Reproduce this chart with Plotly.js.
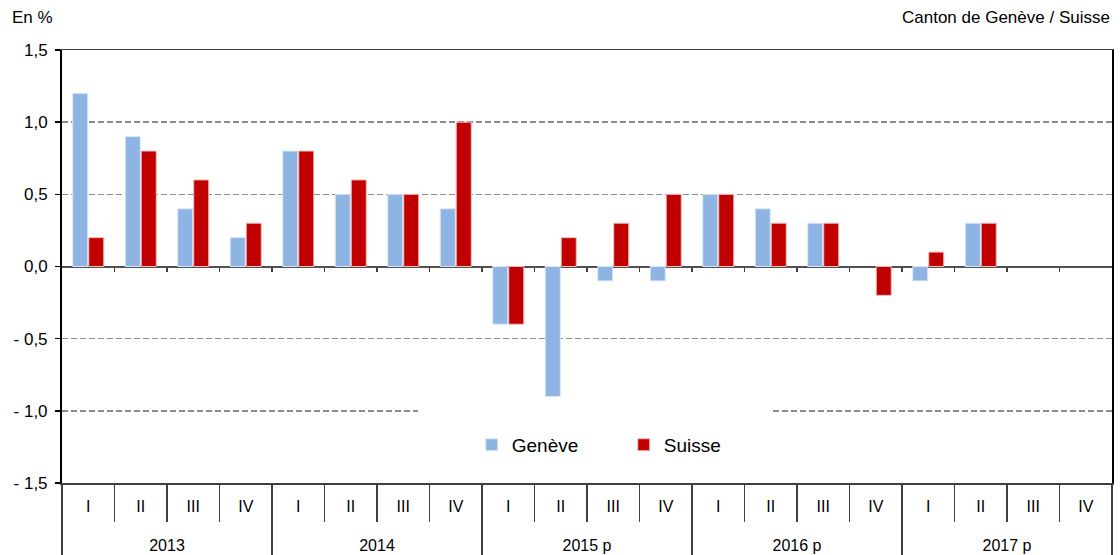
<!DOCTYPE html>
<html><head><meta charset="utf-8">
<script src="https://cdn.plot.ly/plotly-3.0.1.min.js"></script>
<style>body{margin:0;padding:0;background:#fff}#chart{width:1120px;height:555px}</style>
</head><body><div id="chart"></div>
<script>
const years = ['2013','2014','2015 p','2016 p','2017 p'];
const quarters = ['I','II','III','IV'];
const geneve = [1.2, 0.9, 0.4, 0.2,  0.8, 0.5, 0.5, 0.4,  -0.4, -0.9, -0.1, -0.1,  0.5, 0.4, 0.3, null,  -0.1, 0.3, null, null];
const suisse = [0.2, 0.8, 0.6, 0.3,  0.8, 0.6, 0.5, 1.0,  -0.4, 0.2, 0.3, 0.5,  0.5, 0.3, 0.3, -0.2,  0.1, 0.3, null, null];
const yTickVals = [1.5, 1.0, 0.5, 0, -0.5, -1.0, -1.5];
const yTickText = ['1,5','1,0','0,5','0,0','- 0,5','- 1,0','- 1,5'];

// category positions derived from the year/quarter arrays
const qLabels = [], idx = [];
years.forEach(y => quarters.forEach(q => { idx.push(qLabels.length); qLabels.push(q); }));
const nCat = qLabels.length, nQ = quarters.length;
const qBounds = [];
for (let i = 0; i < nCat - 1; i++) qBounds.push(i + 0.5);
const yearCenters = years.map((y, i) => i * nQ + (nQ - 1) / 2);
const yearBounds = [];
for (let i = 0; i <= years.length; i++) yearBounds.push(i * nQ - 0.5);
const R = [-0.5, nCat - 0.5];

const FONT = 'Liberation Sans Narrow, Arial Narrow, Liberation Sans, Arial, sans-serif';
const AX = '#404040';

const ghost = ax => ({type:'scatter', x:[0], y:[0], xaxis:ax, mode:'markers',
                      marker:{opacity:0}, showlegend:false, hoverinfo:'skip'});
const traces = [
  {type:'bar', name:'Genève', x:idx, y:geneve,
   marker:{color:'#8DB4E2', line:{color:'#DCE8F6', width:1}}},
  {type:'bar', name:'Suisse', x:idx, y:suisse,
   marker:{color:'#C00000', line:{color:'#EFC0C0', width:1}}},
  ghost('x2'), ghost('x3'), ghost('x4'), ghost('x5')
];

const tickOnly = (vals, len, extra) => Object.assign({
  overlaying:'x', anchor:'y', range:R, showgrid:false, zeroline:false, showline:false,
  showticklabels:false, tickmode:'array', tickvals:vals, ticks:'outside', ticklen:len,
  tickcolor:AX, tickwidth:1.5}, extra || {});

const layout = {
  width:1120, height:555,
  margin:{l:62, r:8, t:50, b:72},
  paper_bgcolor:'#fff', plot_bgcolor:'#fff',
  font:{family:FONT, size:16, color:'#000'},
  barmode:'group', bargap:0.39, bargroupgap:0.06,
  showlegend:true,
  legend:{orientation:'h', x:0.535, xanchor:'center', y:0.088, yanchor:'middle',
          bgcolor:'rgba(0,0,0,0)', font:{family:FONT, size:19}, entrywidth:107, traceorder:'normal'},
  xaxis:{range:R, showgrid:false, zeroline:false,
         showline:true, linecolor:AX, linewidth:1.5, mirror:true,
         tickmode:'array', tickvals:idx, ticktext:qLabels, ticks:'',
         ticklabelstandoff:8, tickfont:{family:FONT, size:16}},
  xaxis2:tickOnly(qBounds, 4, {anchor:'free', position:0.5}),
  xaxis3:{overlaying:'x', anchor:'y', range:R, showgrid:false, zeroline:false, showline:false,
          tickmode:'array', tickvals:yearCenters, ticktext:years, ticks:'',
          ticklabelstandoff:51, tickfont:{family:FONT, size:16}},
  xaxis4:tickOnly(qBounds, 38),
  xaxis5:tickOnly(yearBounds, 72),
  yaxis:{range:[-1.5, 1.5], tickmode:'array', tickvals:yTickVals, ticktext:yTickText,
         showline:true, linecolor:'#000', linewidth:2, mirror:true,
         ticks:'outside', ticklen:5, tickcolor:'#000', tickwidth:1.5, ticklabelstandoff:4,
         showgrid:true, gridcolor:'#8c8c8c', griddash:'6px,3px', gridwidth:1.5,
         zeroline:true, zerolinecolor:'#505050', zerolinewidth:2,
         tickfont:{family:FONT, size:17}},
  shapes:[
    {type:'rect', xref:'paper', yref:'paper', x0:(418-62)/1050, x1:(770-62)/1050, y0:0.03, y1:0.185,
     fillcolor:'#fff', line:{width:0}, layer:'above'}
  ],
  annotations:[
    {xref:'paper', yref:'paper', x:-0.05, y:1.074, xanchor:'left', yanchor:'middle', showarrow:false,
     text:'En %', font:{family:FONT, size:17}},
    {xref:'paper', yref:'paper', x:1.0, y:1.074, xanchor:'right', yanchor:'middle', showarrow:false,
     text:'Canton de Genève / Suisse', font:{family:FONT, size:17}}
  ]
};

Plotly.newPlot('chart', traces, layout, {displayModeBar:false, staticPlot:true});
</script>
</body></html>
